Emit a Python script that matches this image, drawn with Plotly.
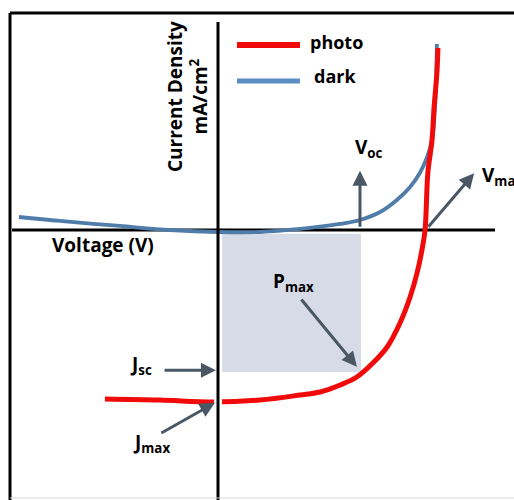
import plotly.graph_objects as go

# ---- data (voltage in V, current density in mA/cm^2) ----
dark_v = [-0.572, -0.454, -0.282, -0.138, 0.0, 0.121, 0.236, 0.351, 0.408,
          0.466, 0.514, 0.552, 0.580, 0.601, 0.615, 0.621, 0.626, 0.629]
dark_j = [1.51, 1.05, 0.47, 0.0, -0.23, -0.23, 0.12, 0.70, 1.16,
          2.09, 3.49, 5.00, 6.63, 8.49, 10.47, 12.79, 16.28, 21.63]

photo_v = [-0.325, -0.167, -0.014, 0.121, 0.236, 0.293, 0.351, 0.399, 0.445,
           0.486, 0.523, 0.552, 0.572, 0.586, 0.595, 0.603, 0.615, 0.621,
           0.629, 0.632]
photo_j = [-19.65, -19.77, -20.0, -19.77, -19.19, -18.84, -18.02, -17.09, -15.47,
           -13.60, -10.81, -7.79, -5.00, -2.33, 0.0, 6.63, 10.47, 14.30,
           18.26, 21.16]

# key points of the cell
v_oc = 0.595
v_max = 0.411
j_sc = -20.0
j_max = -16.5

series_names = ["photo", "dark"]

# ---- styling ----
RED = "#f00a0a"
BLUE = "#4f7ca8"
LEG_BLUE = "#5b8ec4"
ARROW = "#4a5866"
FONT = "Open Sans"

XR = [-0.62644, 0.85057]
YR = [-31.395, 26.744]

fig = go.Figure()

fig.add_trace(go.Scatter(x=dark_v, y=dark_j, mode="lines", name=series_names[1],
                         line=dict(color=BLUE, width=3.8, shape="spline", smoothing=1.0),
                         showlegend=False, hoverinfo="skip"))
fig.add_trace(go.Scatter(x=photo_v, y=photo_j, mode="lines", name=series_names[0],
                         line=dict(color=RED, width=5, shape="spline", smoothing=1.0),
                         showlegend=False, hoverinfo="skip"))

shapes = []
# maximum power rectangle
shapes.append(dict(type="rect", xref="x", yref="y", x0=0.012, x1=v_max, y0=-0.45, y1=j_max,
                   fillcolor="rgb(214,219,231)", line=dict(width=0), layer="below"))
# horizontal (voltage) axis
shapes.append(dict(type="line", xref="x", yref="y", x0=-0.592, x1=0.796, y0=0, y1=0,
                   line=dict(color="black", width=3), layer="below"))
# white break around the vertical axis where the photo curve meets it
shapes.append(dict(type="line", xref="x", yref="y", x0=0, x1=0, y0=-19.0, y1=-21.0,
                   line=dict(color="white", width=8), layer="above"))
# vertical (current) axis
shapes.append(dict(type="line", xref="x", yref="y", x0=0, x1=0, y0=24.19, y1=YR[0],
                   line=dict(color="black", width=3), layer="above"))
# outer frame
shapes.append(dict(type="line", xref="paper", yref="paper", x0=10/514, x1=1.0,
                   y0=1-13/500, y1=1-13/500, line=dict(color="black", width=3)))
shapes.append(dict(type="line", xref="paper", yref="paper", x0=10/514, x1=10/514,
                   y0=1-13/500, y1=0, line=dict(color="black", width=3)))
shapes.append(dict(type="line", xref="paper", yref="paper", x0=10/514, x1=1.0,
                   y0=2/500, y1=2/500, line=dict(color="#d8d8d8", width=1)))
# legend swatches
shapes.append(dict(type="line", xref="paper", yref="paper", x0=237/514, x1=300/514,
                   y0=1-45/500, y1=1-45/500, line=dict(color=RED, width=6)))
shapes.append(dict(type="line", xref="paper", yref="paper", x0=237/514, x1=300/514,
                   y0=1-81/500, y1=1-81/500, line=dict(color=LEG_BLUE, width=5)))

ann = []
def txt(text, x, y, size=19, xanchor="center", xref="x", yref="y", angle=0):
    ann.append(dict(text=text, x=x, y=y, xref=xref, yref=yref, showarrow=False,
                    xanchor=xanchor, yanchor="middle", textangle=angle,
                    font=dict(family=FONT, size=size, color="black", weight="bold")))

def arrow(x, y, ax, ay):
    ann.append(dict(text="", x=x, y=y, ax=ax, ay=ay, xref="x", yref="y",
                    axref="x", ayref="y", showarrow=True, arrowhead=2,
                    arrowsize=1.0, arrowwidth=3, arrowcolor=ARROW))

# axis titles
txt("Voltage (V)", -0.330, -1.75, size=19)
txt("Current Density<br>mA/cm<sup>2</sup>", 188/514, 1-97/500, size=19,
    xref="paper", yref="paper", angle=-90)

# legend labels
txt(series_names[0], 308/514, 1-42/500, size=18, xanchor="left", xref="paper", yref="paper")
txt(series_names[1], 312/514, 1-76/500, size=18, xanchor="left", xref="paper", yref="paper")

# point labels
txt("V<sub>oc</sub>", 0.433, 9.5, size=19)
txt("V<sub>max</sub>", 0.754, 6.3, size=19, xanchor="left")
txt("P<sub>max</sub>", 0.216, -6.0, size=19)
txt("J<sub>sc</sub>", -0.222, -15.7, size=19)
txt("J<sub>max</sub>", -0.192, -24.8, size=19)

# arrows
arrow(0.408, 6.9, 0.408, 0.2)           # Voc
arrow(0.736, 6.6, 0.601, 0.2)           # Vmax
arrow(0.399, -15.9, 0.236, -7.9)        # Pmax
arrow(-0.006, j_max + 0.2, -0.158, j_max + 0.2)  # Jsc
arrow(-0.009, -20.1, -0.167, -23.7)     # Jmax

fig.update_layout(
    width=514, height=500,
    margin=dict(l=0, r=0, t=0, b=0),
    paper_bgcolor="white", plot_bgcolor="white",
    xaxis=dict(range=XR, visible=False, fixedrange=True),
    yaxis=dict(range=YR, visible=False, fixedrange=True),
    shapes=shapes, annotations=ann, showlegend=False,
)

fig.write_html("out.html")
